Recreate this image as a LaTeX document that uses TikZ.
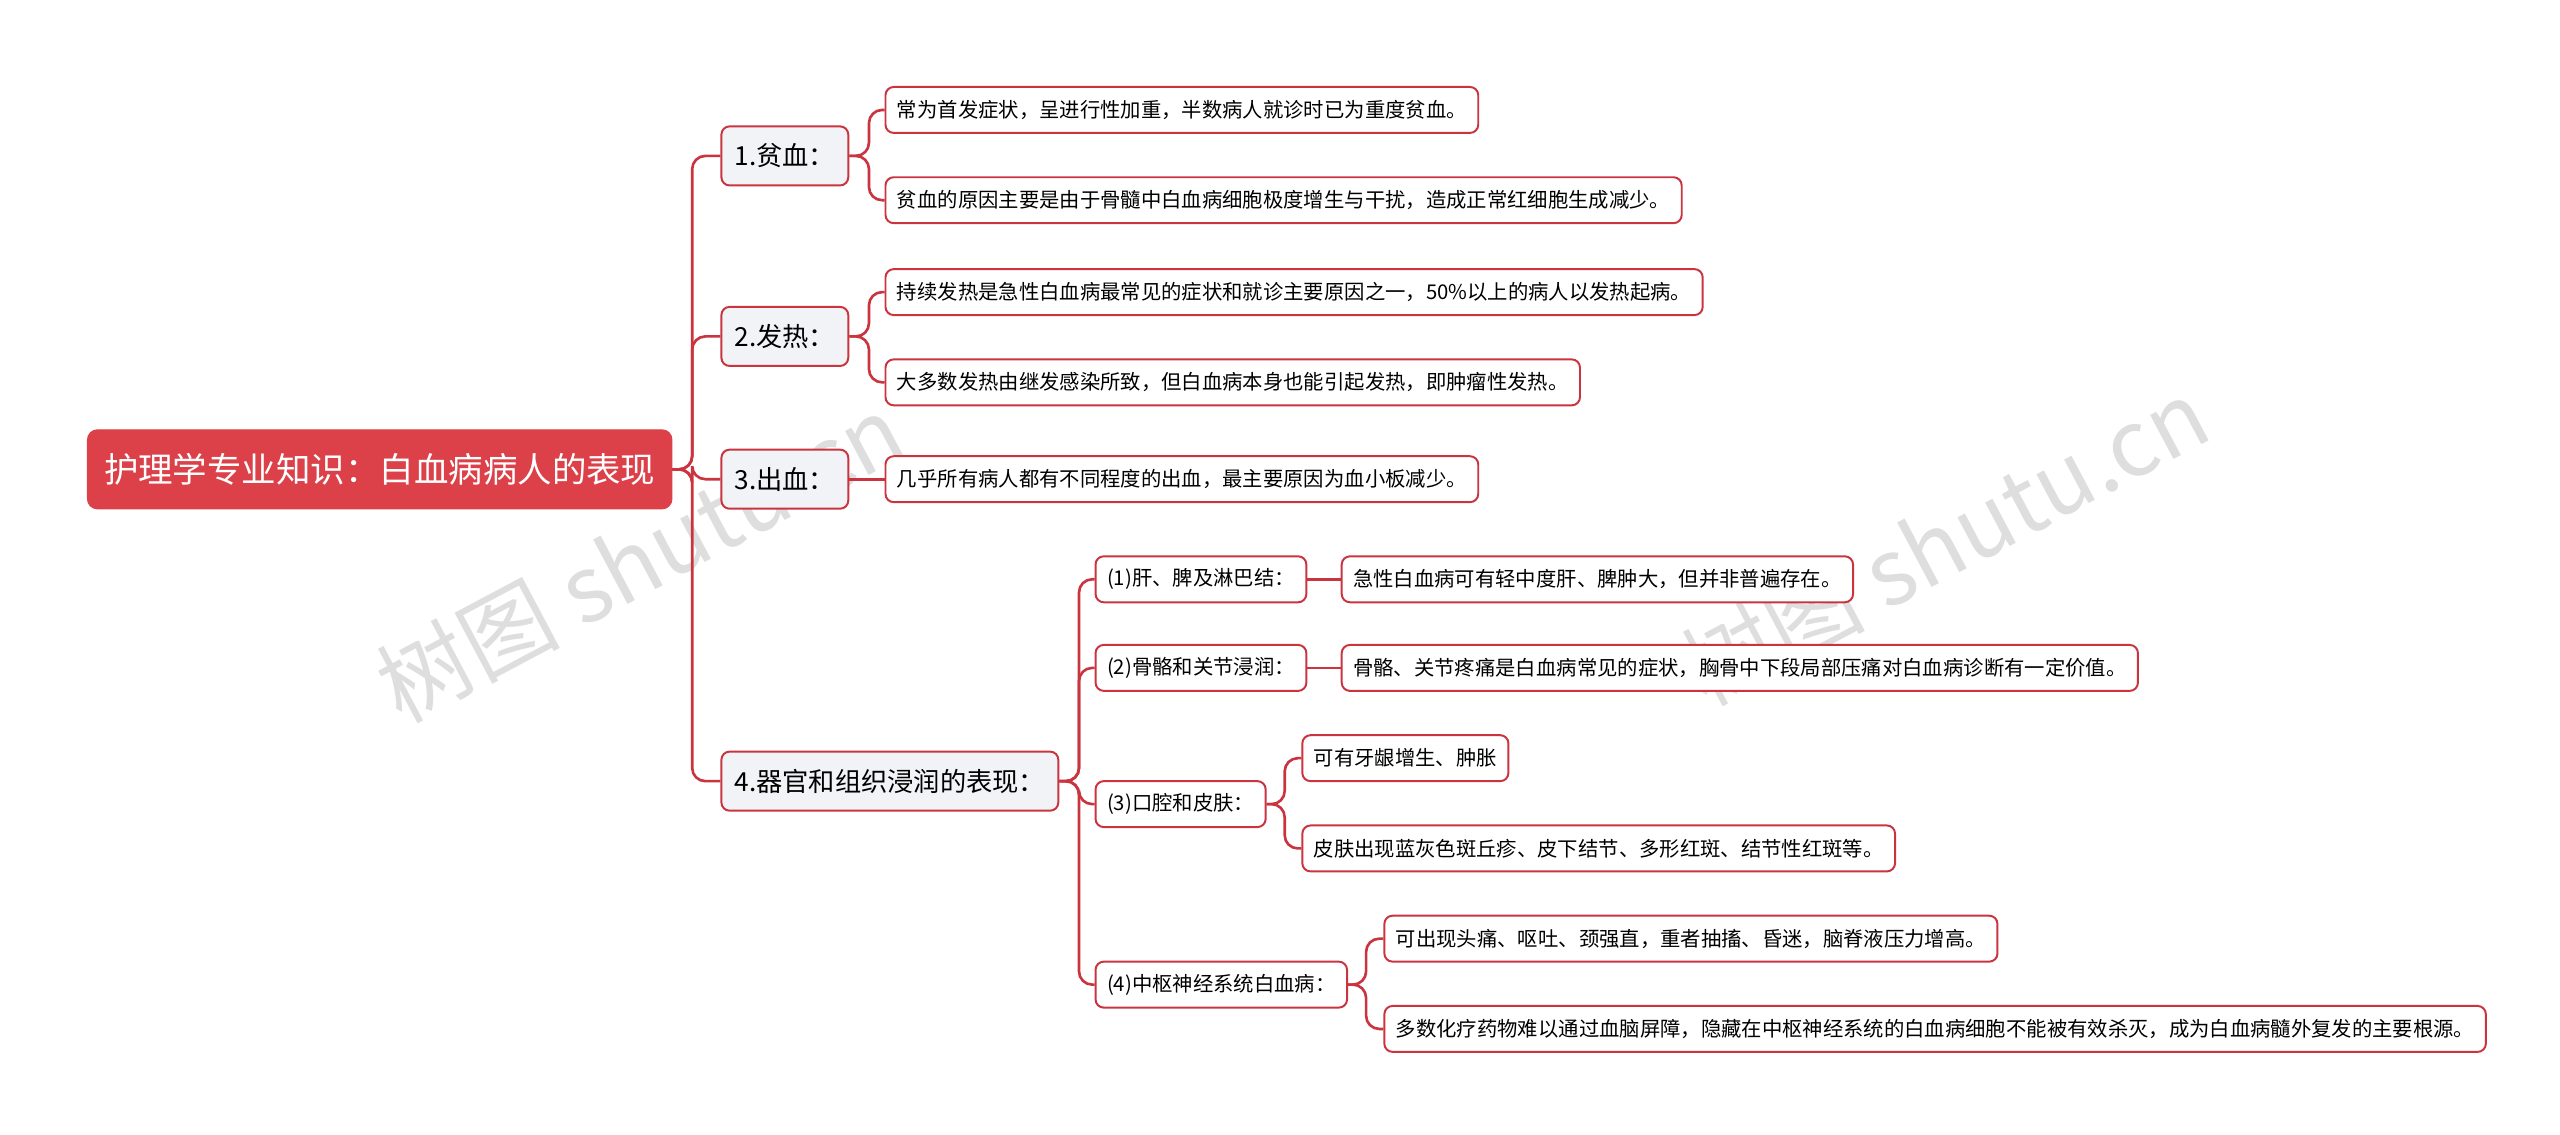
\documentclass[tikz,border=0pt]{standalone}
\usepackage{fontspec}
\newfontfamily\cjk{Noto Sans CJK SC}
\definecolor{rd}{HTML}{C9343F}
\definecolor{rootf}{HTML}{DC4049}
\definecolor{lv1f}{HTML}{F1F3F6}
\begin{document}
\begin{tikzpicture}[x=0.5pt,y=-0.5pt,font=\cjk,
 root/.style={fill=rootf,draw=rootf,rounded corners=3pt,text=white,font=\cjk\fontsize{10.5}{12}\selectfont,minimum height=24pt,inner xsep=5pt,anchor=west},
 lvone/.style={fill=lv1f,draw=rd,rounded corners=2.5pt,font=\cjk\fontsize{8}{10}\selectfont,minimum height=18pt,inner xsep=4pt,anchor=west,line width=0.6pt},
 leaf/.style={fill=white,draw=rd,rounded corners=2.5pt,font=\cjk\fontsize{6.2}{8}\selectfont,minimum height=14pt,inner xsep=3.5pt,anchor=west,line width=0.6pt},
 conn/.style={draw=rd,line width=0.8pt,rounded corners=4pt},
 wm/.style={text=black!13,font=\cjk\fontsize{28}{32}\selectfont,rotate=28}]
\useasboundingbox (0,0) rectangle (1560,691.6);
\node[wm] at (390,340) {树图 shutu.cn};
\node[wm] at (1185,330) {树图 shutu.cn};
\node[root] (r) at (53,286) {护理学专业知识：白血病病人的表现};
\node[lvone] (a) at (439,95) {1.贫血：};
\node[lvone] (b) at (439,205) {2.发热：};
\node[lvone] (c) at (439,292) {3.出血：};
\node[lvone] (d) at (439,476) {4.器官和组织浸润的表现：};
\node[leaf] (a1) at (539,67) {常为首发症状，呈进行性加重，半数病人就诊时已为重度贫血。};
\node[leaf] (a2) at (539,122) {贫血的原因主要是由于骨髓中白血病细胞极度增生与干扰，造成正常红细胞生成减少。};
\node[leaf] (b1) at (539,178) {持续发热是急性白血病最常见的症状和就诊主要原因之一，50\%以上的病人以发热起病。};
\node[leaf] (b2) at (539,233) {大多数发热由继发感染所致，但白血病本身也能引起发热，即肿瘤性发热。};
\node[leaf] (c1) at (539,292) {几乎所有病人都有不同程度的出血，最主要原因为血小板减少。};
\node[leaf] (d1) at (667,353) {(1)肝、脾及淋巴结：};
\node[leaf] (d2) at (667,407) {(2)骨骼和关节浸润：};
\node[leaf] (d3) at (667,490) {(3)口腔和皮肤：};
\node[leaf] (d4) at (667,600) {(4)中枢神经系统白血病：};
\node[leaf] (d1a) at (817,353) {急性白血病可有轻中度肝、脾肿大，但并非普遍存在。};
\node[leaf] (d2a) at (817,407) {骨骼、关节疼痛是白血病常见的症状，胸骨中下段局部压痛对白血病诊断有一定价值。};
\node[leaf] (d3a) at (793,462) {可有牙龈增生、肿胀};
\node[leaf] (d3b) at (793,517) {皮肤出现蓝灰色斑丘疹、皮下结节、多形红斑、结节性红斑等。};
\node[leaf] (d4a) at (843,572) {可出现头痛、呕吐、颈强直，重者抽搐、昏迷，脑脊液压力增高。};
\node[leaf] (d4b) at (843,627) {多数化疗药物难以通过血脑屏障，隐藏在中枢神经系统的白血病细胞不能被有效杀灭，成为白血病髓外复发的主要根源。};
\foreach \c in {a,b,c,d} \draw[conn] (r.east) -- ++(12,0) |- (\c.west);
\foreach \c in {a1,a2} \draw[conn] (a.east) -- ++(12,0) |- (\c.west);
\foreach \c in {b1,b2} \draw[conn] (b.east) -- ++(12,0) |- (\c.west);
\draw[conn] (c.east) -- (c1.west);
\foreach \c in {d1,d2,d3,d4} \draw[conn] (d.east) -- ++(12,0) |- (\c.west);
\draw[conn] (d1.east) -- (d1a.west);
\draw[conn] (d2.east) -- (d2a.west);
\foreach \c in {d3a,d3b} \draw[conn] (d3.east) -- ++(11,0) |- (\c.west);
\foreach \c in {d4a,d4b} \draw[conn] (d4.east) -- ++(11,0) |- (\c.west);
\end{tikzpicture}
\end{document}
